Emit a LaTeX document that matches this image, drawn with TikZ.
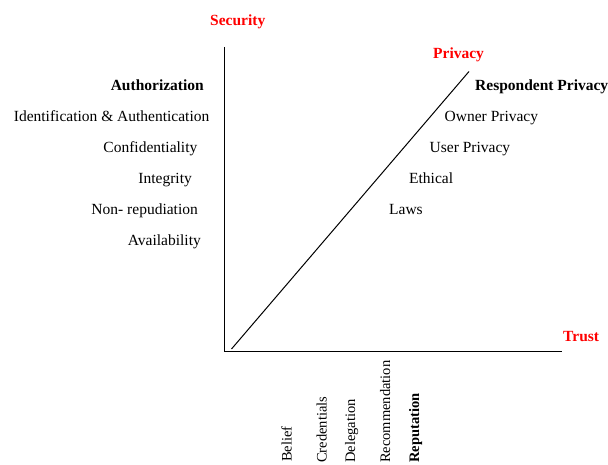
\documentclass[tikz,border=0pt]{standalone}
\usepackage{fontspec}
\setmainfont{Liberation Serif}
\begin{document}
\begin{tikzpicture}[x=1pt,y=-1pt,
  lbl/.style={inner sep=0pt, font=\fontsize{15.5}{18}\selectfont},
  lblb/.style={lbl, font=\fontsize{15.5}{18}\selectfont\bfseries},
  axlbl/.style={inner sep=0pt, text=red, font=\fontsize{15.5}{18}\selectfont\bfseries},
  vlbl/.style={inner sep=0pt, rotate=90, anchor=base west, font=\fontsize{14.5}{17}\selectfont},
  axis/.style={line width=1pt, black}]
\useasboundingbox (0,0) rectangle (608,465);
% axes
\coordinate (ytop) at (224,47);
\coordinate (orig) at (224,351);
\coordinate (xend) at (562,351);
\coordinate (ds) at (231.5,349);
\coordinate (de) at (469,71.5);
\draw[axis] (ytop) -- (orig) -- (xend);
\draw[axis] (ds) -- (de);
% axis titles
\node[axlbl, anchor=base west] (sec) at (210,26) {Security};
\node[axlbl, anchor=base west] (priv) at (433,59) {Privacy};
\node[axlbl, anchor=base west] (trust) at (563,341) {Trust};
% security items
\node[lblb, anchor=base east] (auth) at (204,91) {Authorization};
\node[lbl, anchor=base east] (ia) at (209.5,122) {Identification \& Authentication};
\node[lbl, anchor=base east] (conf) at (197.5,153) {Confidentiality};
\node[lbl, anchor=base east] (integ) at (192,184) {Integrity};
\node[lbl, anchor=base east] (nonrep) at (198,215) {Non- repudiation};
\node[lbl, anchor=base east] (avail) at (201,246) {Availability};
% privacy items
\node[lblb, anchor=base west] (resp) at (475,91) {Respondent Privacy};
\node[lbl, anchor=base west] (owner) at (444.5,122) {Owner Privacy};
\node[lbl, anchor=base west] (user) at (429.5,153) {User Privacy};
\node[lbl, anchor=base west] (eth) at (409,184) {Ethical};
\node[lbl, anchor=base west] (laws) at (389,215) {Laws};
% trust items
\node[vlbl] (belief) at (291.5,462) {Belief};
\node[vlbl] (cred) at (326.5,463) {Credentials};
\node[vlbl] (deleg) at (355,463) {Delegation};
\node[vlbl] (recom) at (390,463) {Recommendation};
\node[vlbl, font=\fontsize{14.5}{17}\selectfont\bfseries] (reput) at (419,463) {Reputation};
\end{tikzpicture}
\end{document}
